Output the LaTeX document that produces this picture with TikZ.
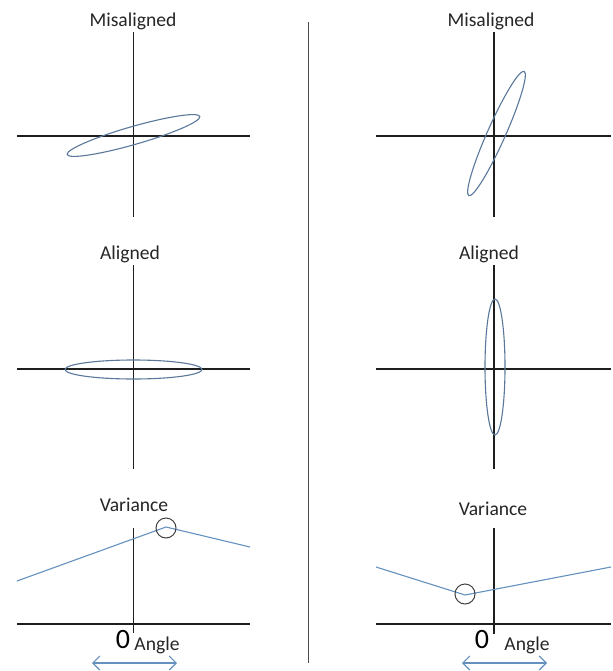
\documentclass[tikz,border=0pt]{standalone}
\usepackage{fontspec}
\setmainfont{Carlito}
\usetikzlibrary{arrows.meta}
\definecolor{curveblue}{RGB}{100,145,190}
\definecolor{ellblue}{RGB}{90,120,155}
\definecolor{axisgray}{RGB}{30,30,30}
\tikzset{
  axisline/.style={draw=axisgray, line width=1.1bp},
  ell/.style={draw=ellblue, line width=1.1bp},
  curve/.style={draw=curveblue, line width=1.1bp},
  mark circ/.style={draw=axisgray!85, line width=1bp},
  ttl/.style={font=\fontsize{19.6bp}{21bp}\selectfont, text=black!85, inner sep=0pt},
  zero/.style={font=\fontsize{28bp}{30bp}\selectfont, text=black, inner sep=0pt},
  dblarrow/.style={draw=curveblue, line width=1.1bp, {Straight Barb[length=7bp,width=14bp]}-{Straight Barb[length=7bp,width=14bp]}},
}
\begin{document}
\begin{tikzpicture}[x=1bp,y=-1bp]
\useasboundingbox[fill=white] (0,0) rectangle (613,671);
% divider
\coordinate (dT) at (308.5,22);
\coordinate (dB) at (308.5,663);
\draw[draw=black!70, line width=1.3bp] (dT) -- (dB);

% ---------- left top ----------
\node[ttl] (t1) at (133,21) {Misaligned};
\coordinate (a1t) at (133.5,32); \coordinate (a1b) at (133.5,217);
\coordinate (a1l) at (17,136); \coordinate (a1r) at (250,136);
\draw[axisline] (a1t) -- (a1b); \draw[axisline] (a1l) -- (a1r);
\draw[ell, rotate around={16:(133.5,135.5)}] (133.5,135.5) ellipse [x radius=69, y radius=9];

% ---------- right top ----------
\node[ttl] (t2) at (491,21) {Misaligned};
\coordinate (a2t) at (494,32); \coordinate (a2b) at (494,217);
\coordinate (a2l) at (376,136); \coordinate (a2r) at (611,136);
\draw[axisline] (a2t) -- (a2b); \draw[axisline] (a2l) -- (a2r);
\draw[ell, rotate around={66:(496.5,133.5)}] (496.5,133.5) ellipse [x radius=68, y radius=9];

% ---------- left middle ----------
\node[ttl] (t3) at (130,254) {Aligned};
\coordinate (a3t) at (133.5,265); \coordinate (a3b) at (133.5,469);
\coordinate (a3l) at (17,369); \coordinate (a3r) at (250,369);
\draw[axisline] (a3t) -- (a3b); \draw[axisline] (a3l) -- (a3r);
\draw[ell] (133.5,369.5) ellipse [x radius=68.5, y radius=9.5];

% ---------- right middle ----------
\node[ttl] (t4) at (489,254) {Aligned};
\coordinate (a4t) at (494,265); \coordinate (a4b) at (494,469);
\coordinate (a4l) at (376,369); \coordinate (a4r) at (611,369);
\draw[axisline] (a4t) -- (a4b); \draw[axisline] (a4l) -- (a4r);
\draw[ell] (495,367) ellipse [x radius=10, y radius=68];

% ---------- left bottom ----------
\node[ttl] (t5) at (134,505) {Variance};
\coordinate (a5t) at (133.5,528); \coordinate (a5b) at (133.5,633);
\coordinate (a5l) at (17,624); \coordinate (a5r) at (250,624);
\draw[axisline] (a5t) -- (a5b); \draw[axisline] (a5l) -- (a5r);
\coordinate (c5l) at (17,581); \coordinate (c5p) at (166,527); \coordinate (c5r) at (250,547);
\draw[curve] (c5l) -- (c5p) -- (c5r);
\node[mark circ, circle, minimum size=20bp, inner sep=0pt] (m5) at (166,528) {};
\node[zero] (z5) at (123,640) {0};
\node[ttl] (g5) at (157,645) {Angle};
\coordinate (r5l) at (92,663); \coordinate (r5r) at (177,663);
\draw[dblarrow] (r5l) -- (r5r);

% ---------- right bottom ----------
\node[ttl] (t6) at (493,509) {Variance};
\coordinate (a6t) at (494,528); \coordinate (a6b) at (494,634);
\coordinate (a6l) at (376,624); \coordinate (a6r) at (611,624);
\draw[axisline] (a6t) -- (a6b); \draw[axisline] (a6l) -- (a6r);
\coordinate (c6l) at (376,567); \coordinate (c6p) at (465,595); \coordinate (c6r) at (611,567);
\draw[curve] (c6l) -- (c6p) -- (c6r);
\node[mark circ, circle, minimum size=20bp, inner sep=0pt] (m6) at (465,594) {};
\node[zero] (z6) at (482,640) {0};
\node[ttl] (g6) at (527,645) {Angle};
\coordinate (r6l) at (462,663); \coordinate (r6r) at (547,663);
\draw[dblarrow] (r6l) -- (r6r);
\end{tikzpicture}
\end{document}
